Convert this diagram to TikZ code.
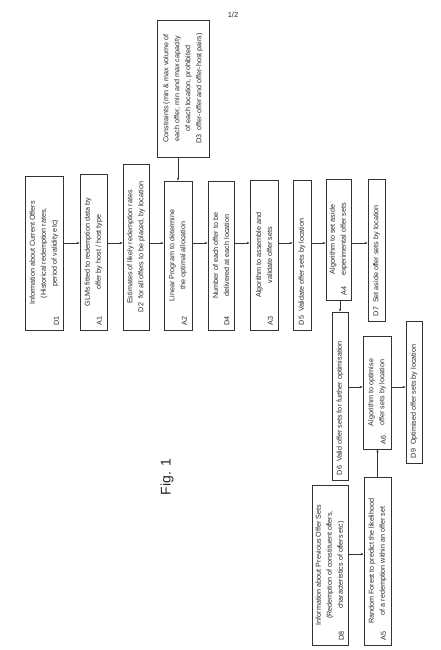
\documentclass[tikz,border=0pt]{standalone}
\usepackage{fontspec}
\setmainfont{Liberation Sans}
\usetikzlibrary{arrows.meta}
\begin{document}
\begin{tikzpicture}[x=1pt,y=1pt,
  box/.style={draw=black!80, line width=0.7pt, inner sep=0pt, rectangle},
  txt/.style={rotate=90, align=center, inner sep=0pt, text=black!85, font=\fontsize{7.2}{11}\selectfont},
  lbl/.style={rotate=90, inner sep=0pt, text=black!85, font=\fontsize{7.2}{11}\selectfont},
  arr/.style={draw=black!80, line width=0.5pt, -{Stealth[length=3pt,width=2.2pt]}}]
\useasboundingbox (0,0) rectangle (441,-650);
% page number
\node[inner sep=0pt, text=black!85, font=\fontsize{7.5}{9}\selectfont] (pg) at (233,-15) {1/2};
% boxes
\node[box, minimum width=38, minimum height=154] (D1) at (44,-253) {};
\node[box, minimum width=27, minimum height=156] (A1) at (93.5,-252) {};
\node[box, minimum width=26, minimum height=166] (D2) at (136,-247) {};
\node[box, minimum width=28, minimum height=149] (A2) at (178,-255.5) {};
\node[box, minimum width=52, minimum height=137] (D3) at (183,-88.5) {};
\node[box, minimum width=26, minimum height=149] (D4) at (221,-255.5) {};
\node[box, minimum width=28, minimum height=150] (A3) at (264,-255) {};
\node[box, minimum width=18, minimum height=150] (D5) at (302,-255) {};
\node[box, minimum width=25, minimum height=121] (A4) at (338.5,-239.5) {};
\node[box, minimum width=17, minimum height=142] (D7) at (376.5,-250) {};
\node[box, minimum width=16, minimum height=168] (D6) at (340,-396) {};
\node[box, minimum width=28, minimum height=113] (A6) at (377,-392.5) {};
\node[box, minimum width=16, minimum height=142] (D9) at (414,-392) {};
\node[box, minimum width=36, minimum height=160] (D8) at (330,-565) {};
\node[box, minimum width=27, minimum height=168] (A5) at (377.5,-561) {};
% texts
\node[txt] (tD1) at (D1.center) {Information about Current Offers\\(Historical redemption rates,\\period of validity etc)};
\node[lbl] (lD1) at ([xshift=-7,yshift=9]D1.south east) {D1};
\node[txt] (tA1) at (A1.center) {GLMs fitted to redemption data by\\offer by host / host type};
\node[lbl] (lA1) at ([xshift=-8,yshift=9]A1.south east) {A1};
\node[txt] (tD2) at (D2.center) {Estimates of likely redemption rates\\D2\ \ for all offers to be placed, by location};
\node[txt] (tA2) at (A2.center) {Linear Program to determine\\the optimal allocation};
\node[lbl] (lA2) at ([xshift=-8,yshift=9]A2.south east) {A2};
\node[txt] (tD3) at (D3.center) {Constraints (min \& max volume of\\each offer, min and max capacity\\of each location, prohibited\\D3\ \ offer-offer and offer-host pairs)};
\node[txt] (tD4) at (D4.center) {Number of each offer to be\\delivered at each location};
\node[lbl] (lD4) at ([xshift=-7.5,yshift=9]D4.south east) {D4};
\node[txt] (tA3) at (A3.center) {Algorithm to assemble and\\validate offer sets};
\node[lbl] (lA3) at ([xshift=-8,yshift=9]A3.south east) {A3};
\node[lbl, anchor=west] (tD5) at ([yshift=5]D5.south) {D5\ \ Validate offer sets by location};
\node[txt] (tA4) at (A4.center) {Algorithm to set aside\\experimental offer sets};
\node[lbl] (lA4) at ([xshift=-7.5,yshift=9]A4.south east) {A4};
\node[lbl, anchor=west] (tD7) at ([yshift=5]D7.south) {D7\ \ Set aside offer sets by location};
\node[lbl, anchor=west] (tD6) at ([yshift=5]D6.south) {D6\ \ Valid offer sets for further optimisation};
\node[txt] (tA6) at (A6.center) {Algorithm to optimise\\offer sets by location};
\node[lbl] (lA6) at ([xshift=-8,yshift=9]A6.south east) {A6};
\node[lbl, anchor=west] (tD9) at ([yshift=5]D9.south) {D9\ \ Optimised offer sets by location};
\node[txt] (tD8) at (D8.center) {Information about Previous Offer Sets\\(Redemption of constituent offers,\\characteristics of offers etc)};
\node[lbl] (lD8) at ([xshift=-7,yshift=9]D8.south east) {D8};
\node[txt] (tA5) at (A5.center) {Random Forest to predict the likelihood\\of a redemption within an offer set};
\node[lbl] (lA5) at ([xshift=-8,yshift=9]A5.south east) {A5};
% figure label
\node[rotate=90, inner sep=0pt, text=black!85, font=\fontsize{14}{16}\selectfont] (fig) at (167,-477) {Fig. 1};
% connectors
\coordinate (Y1) at (0,-243);
\coordinate (Y2) at (0,-387);
\coordinate (Y3) at (0,-554);
\draw[arr] (D1.east |- Y1) -- (A1.west |- Y1);
\draw[arr] (A1.east |- Y1) -- (D2.west |- Y1);
\draw[arr] (D2.east |- Y1) -- (A2.west |- Y1);
\draw[arr] (A2.east |- Y1) -- (D4.west |- Y1);
\draw[arr] (D4.east |- Y1) -- (A3.west |- Y1);
\draw[arr] (A3.east |- Y1) -- (D5.west |- Y1);
\draw[arr] (D5.east |- Y1) -- (A4.west |- Y1);
\draw[arr] (A4.east |- Y1) -- (D7.west |- Y1);
\draw[arr] (A2.north |- D3.south) -- (A2.north);
\draw[arr] (D6.north |- A4.south) -- (D6.north);
\draw[arr] (D6.east |- Y2) -- (A6.west |- Y2);
\draw[arr] (A6.east |- Y2) -- (D9.west |- Y2);
\draw[arr] (D8.east |- Y3) -- (A5.west |- Y3);
\draw[arr] (A5.north) -- (A5.north |- A6.south);
\end{tikzpicture}
\end{document}
